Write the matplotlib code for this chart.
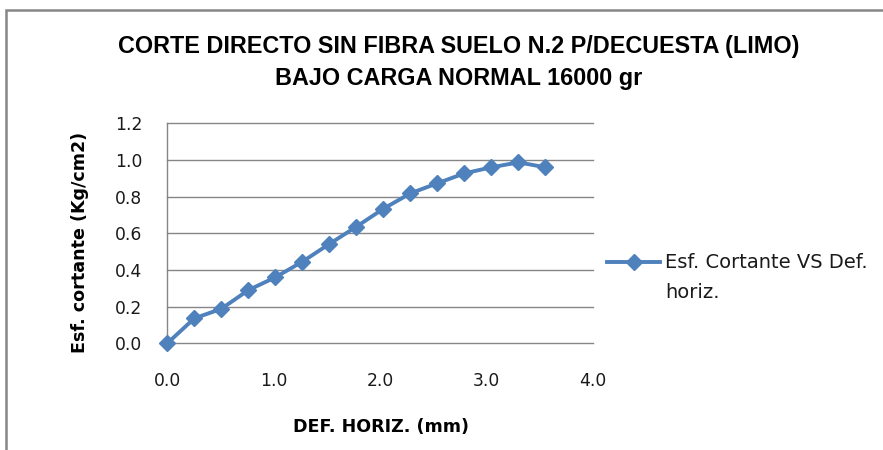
import matplotlib
matplotlib.use("Agg")
import matplotlib.pyplot as plt
from matplotlib.patches import Rectangle
from matplotlib.lines import Line2D
from matplotlib import font_manager as fm

# Data
def_horiz = [0.000, 0.254, 0.508, 0.762, 1.016, 1.270, 1.524, 1.778, 2.032,
             2.286, 2.540, 2.794, 3.048, 3.302, 3.556]
esf_cortante = [0.000, 0.136, 0.188, 0.290, 0.360, 0.445, 0.542, 0.636, 0.734,
                0.818, 0.873, 0.927, 0.960, 0.987, 0.960]
x_ticks = [0.0, 1.0, 2.0, 3.0, 4.0]
y_ticks = [0.0, 0.2, 0.4, 0.6, 0.8, 1.0, 1.2]
series_label_lines = ["Esf. Cortante VS Def.", "horiz."]
title_lines = ["CORTE DIRECTO SIN FIBRA SUELO N.2 P/DECUESTA (LIMO)",
               "BAJO CARGA NORMAL 16000 gr"]
x_label = "DEF. HORIZ. (mm)"
y_label = "Esf. cortante (Kg/cm2)"


def has_font(name):
    try:
        fm.findfont(fm.FontProperties(family=name), fallback_to_default=False)
        return True
    except Exception:
        return False


NARROW = "Liberation Sans Narrow" if has_font("Liberation Sans Narrow") else "Liberation Sans"

W, H = 883, 450
fig = plt.figure(figsize=(W / 100, H / 100), dpi=100)
fig.patch.set_facecolor("white")

BLUE = "#4F81BD"
GRID = "#868686"


def px(x, y):
    return x / W, 1 - y / H


# outer chart border (extends past right/bottom edges)
fig.patches.append(Rectangle(px(6, 460), (W + 20) / W, (460 - 10) / H,
                             transform=fig.transFigure, fill=False,
                             edgecolor=GRID, linewidth=1.8, zorder=0))

left, right, top, bottom = 167.3, 592.7, 123.3, 343.3
ax = fig.add_axes([left / W, 1 - bottom / H, (right - left) / W, (bottom - top) / H])
ax.set_xlim(0, 4.0)
ax.set_ylim(0, 1.2)
ax.set_xticks(x_ticks)
ax.set_yticks(y_ticks)
ax.set_xticklabels([f"{v:.1f}" for v in x_ticks])
ax.set_yticklabels([f"{v:.1f}" for v in y_ticks])
for s in ["top", "right", "bottom"]:
    ax.spines[s].set_visible(False)
ax.spines["left"].set_color(GRID)
ax.spines["left"].set_linewidth(1.0)
ax.grid(axis="y", color=GRID, linewidth=1.0)
for gl in ax.get_ygridlines():
    gl.set_clip_on(False)
ax.set_axisbelow(True)
ax.tick_params(axis="both", length=0, labelsize=12.3, labelcolor="#1a1a1a")
ax.tick_params(axis="y", pad=18)
ax.tick_params(axis="x", pad=21)
for lbl in ax.get_xticklabels() + ax.get_yticklabels():
    lbl.set_family("DejaVu Sans")

ax.plot(def_horiz, esf_cortante, color=BLUE, linewidth=2.8, marker="D",
        markersize=8, markerfacecolor=BLUE, markeredgecolor=BLUE,
        clip_on=False, zorder=5)

title_size = 16.8 if NARROW == "Liberation Sans" else 19.5
fig.text(*px(459, 47), title_lines[0], ha="center", va="center",
         fontsize=title_size, fontweight="bold", family=NARROW)
fig.text(*px(459, 79), title_lines[1], ha="center", va="center",
         fontsize=title_size, fontweight="bold", family=NARROW)
fig.text(*px(80, 242), y_label, ha="center", va="center", rotation=90,
         fontsize=12.6, fontweight="bold", family="DejaVu Sans")
fig.text(*px(381, 427), x_label, ha="center", va="center",
         fontsize=12.6, fontweight="bold", family="DejaVu Sans")

# legend (drawn manually: handle aligned with first text line)
fig.add_artist(Line2D([607 / W, 660 / W], [1 - 262 / H, 1 - 262 / H],
                      transform=fig.transFigure, color=BLUE, linewidth=2.8))
fig.add_artist(Line2D([633.5 / W], [1 - 262 / H], transform=fig.transFigure,
                      color=BLUE, marker="D", markersize=8, linestyle="none"))
fig.text(665 / W, 1 - 262 / H, series_label_lines[0], ha="left", va="center",
         fontsize=14, family="DejaVu Sans", color="#1a1a1a")
fig.text(665 / W, 1 - 292 / H, series_label_lines[1], ha="left", va="center",
         fontsize=14, family="DejaVu Sans", color="#1a1a1a")

fig.savefig("out.png", dpi=100, facecolor="white")
